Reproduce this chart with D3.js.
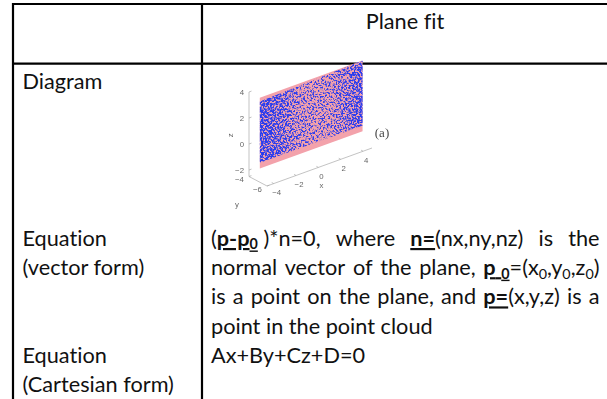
<!DOCTYPE html>
<html>
<head>
<meta charset="utf-8">
<script src="https://cdn.jsdelivr.net/npm/d3@7"></script>
<style>
  html, body { margin: 0; padding: 0; background: #fff; }
  svg { display: block; }
  text { font-variant-ligatures: none; font-feature-settings: "liga" 0; }
</style>
</head>
<body>
<svg id="chart" width="607" height="399"></svg>
<script>
// ---------- content ----------
const headerTitle = "Plane fit";
const leftLabels = ["Diagram", "Equation", "(vector form)", "Equation", "(Cartesian form)"];
const leftBaselines = [89, 246, 275.2, 362.8, 392];

// right-hand text: each line is a list of words, each word a list of styled runs
const rightLines = [
  { justify: true, words: [
    [{t: "("}, {t: "p-p", b: 1, u: 1}, {t: "0", b: 1, u: 1, sub: 1}, {t: " )*n=0,"}],
    [{t: "where"}],
    [{t: "n=", b: 1, u: 1}, {t: "(nx,ny,nz)"}],
    [{t: "is"}], [{t: "the"}]
  ]},
  { justify: true, words: [
    [{t: "normal"}], [{t: "vector"}], [{t: "of"}], [{t: "the"}], [{t: "plane,"}],
    [{t: "p", b: 1, u: 1}, {t: " ", u: 1}, {t: "0", b: 1, u: 1, sub: 1}, {t: "=(x"}, {t: "0", sub: 1},
     {t: ",y"}, {t: "0", sub: 1}, {t: ",z"}, {t: "0", sub: 1}, {t: ")"}]
  ]},
  { justify: true, words: [
    [{t: "is"}], [{t: "a"}], [{t: "point"}], [{t: "on"}], [{t: "the"}], [{t: "plane,"}], [{t: "and"}],
    [{t: "p=", b: 1, u: 1}, {t: "(x,y,z)"}], [{t: "is"}], [{t: "a"}]
  ]},
  { justify: false, words: [[{t: "point"}], [{t: "in"}], [{t: "the"}], [{t: "point"}], [{t: "cloud"}]] },
  { justify: false, words: [[{t: "Ax+By+Cz+D=0"}]] }
];
const rightBaselines = [246, 275.2, 304.4, 333.6, 362.8];

// ---------- 3-D scatter: axes and point-cloud extents ----------
const xLimits = [-4.6, 4.8];
const yLimits = [-6, -4];
const zLimits = [-2.5, 4];
const xTicks = [-4, -2, 0, 2, 4];
const yTicks = [-6, -4];
const zTicks = [-2, 0, 2, 4];
const cloudX = [-4.6, 4.6];          // x span of the sampled plane
const cloudY = -5.2;                 // plane position along y
const pinkZ = [[-1.45, 4.0], [-1.45, 4.0]];   // [bottom, top] z at x min / x max
const blueZ = [[-1.0, 3.7], [-1.0, 4.0]];
const panelLabel = "(a)";

// ---------- drawing ----------
const svg = d3.select("#chart");
const FONT = "Lato, 'Open Sans', sans-serif";
const defs = svg.append("defs");

// table rules
const rule = { top: 4, header: 63.6, left: 13, divider: 202, stroke: 2.2 };
const tbl = svg.append("g").attr("stroke", "#000").attr("stroke-width", rule.stroke);
tbl.append("line").attr("x1", rule.left - 1).attr("x2", 607).attr("y1", rule.top).attr("y2", rule.top);
tbl.append("line").attr("x1", rule.left - 1).attr("x2", 607).attr("y1", rule.header).attr("y2", rule.header);
tbl.append("line").attr("x1", rule.left).attr("x2", rule.left).attr("y1", rule.top - 1).attr("y2", 399);
tbl.append("line").attr("x1", rule.divider).attr("x2", rule.divider).attr("y1", rule.top - 1).attr("y2", 399);

// font size fitted so that "Equation" spans ~84px
const probe = svg.append("text").attr("font-family", FONT).attr("font-size", 22).text("Equation");
const fs = 22 * 84.4 / probe.node().getComputedTextLength();
probe.remove();

const textG = svg.append("g").attr("font-family", FONT).attr("font-size", fs).attr("fill", "#111");

textG.append("text").attr("x", 405).attr("y", 29).attr("text-anchor", "middle").text(headerTitle);

textG.selectAll("text.lbl").data(leftLabels).join("text")
  .attr("class", "lbl").attr("x", 22.5).attr("y", (d, i) => leftBaselines[i]).text(d => d);

// right column with justified lines
const rx0 = 211, rx1 = 599.5;
const subSize = fs * 0.66, subShift = fs * 0.16;
function makeWord(g, runs, y) {
  const t = g.append("text").attr("x", 0).attr("y", y).style("white-space", "pre");
  let shift = 0;
  runs.forEach(r => {
    const target = r.sub ? subShift : 0;
    const ts = t.append("tspan").text(r.t).attr("dy", target - shift);
    shift = target;
    if (r.b) ts.attr("font-weight", 700);
    if (r.u) ts.attr("text-decoration", "underline");
    if (r.sub) ts.attr("font-size", subSize);
  });
  return t;
}
const sp = (() => {
  const a = textG.append("text").text("a a"), b = textG.append("text").text("aa");
  const w = a.node().getComputedTextLength() - b.node().getComputedTextLength();
  a.remove(); b.remove(); return w;
})();
rightLines.forEach((line, li) => {
  const y = rightBaselines[li];
  const els = line.words.map(w => makeWord(textG, w, y));
  const widths = els.map(e => e.node().getComputedTextLength());
  const total = d3.sum(widths);
  const gap = line.justify && els.length > 1 ? (rx1 - rx0 - total) / (els.length - 1) : sp;
  let x = rx0;
  els.forEach((e, i) => { e.attr("x", x); x += widths[i] + gap; });
});

// ---------- 3-D plot ----------
// orthographic projection built from one linear scale per screen component
const origin = [267, 186];                       // (xmin, ymin, zmin)
const hx = d3.scaleLinear(xLimits, [0, 105]);
const vx = d3.scaleLinear(xLimits, [0, -38]);
const hy = d3.scaleLinear(yLimits, [0, -18]);
const vy = d3.scaleLinear(yLimits, [0, -9.5]);
const vz = d3.scaleLinear(zLimits, [0, -84.5]);
const proj = (x, y, z) => [origin[0] + hx(x) + hy(y), origin[1] + vx(x) + vy(y) + vz(z)];

defs.append("filter").attr("id", "soft").attr("x", -0.1).attr("y", -0.1).attr("width", 1.2).attr("height", 1.2)
  .append("feGaussianBlur").attr("stdDeviation", 0.4);

const plot = svg.append("g").attr("filter", "url(#soft)");
const axisCol = "#a9a9a9", tickCol = "#666";
const [x0, x1] = xLimits, [y0, y1] = yLimits, [z0, z1] = zLimits;

const axG = plot.append("g").attr("stroke", axisCol).attr("stroke-width", 0.7).attr("fill", "none");
const seg = (a, b) => axG.append("line").attr("x1", a[0]).attr("y1", a[1]).attr("x2", b[0]).attr("y2", b[1]);
seg(proj(x0, y1, z0), proj(x0, y1, z1));
seg(proj(x0, y1, z0), proj(x0, y0, z0));
seg(proj(x0, y0, z0), proj(x1, y0, z0));

// tick marks
zTicks.forEach(z => { const p = proj(x0, y1, z); seg(p, [p[0] + 2.5, p[1] - 0.9]); });
xTicks.forEach(x => { const p = proj(x, y0, z0); seg(p, [p[0] - 2, p[1] - 1.1]); });
yTicks.forEach(y => { const p = proj(x0, y, z0); seg(p, [p[0] + 2.4, p[1] - 0.9]); });

const lab = plot.append("g").attr("font-family", "'Liberation Sans', Arial, sans-serif")
  .attr("font-size", 7.8).attr("fill", tickCol);
const fmt = d3.format("");
zTicks.forEach(z => { const p = proj(x0, y1, z);
  lab.append("text").attr("x", p[0] - 5).attr("y", p[1]).attr("dy", "0.35em").attr("text-anchor", "end").text(fmt(z)); });
xTicks.forEach(x => { const p = proj(x, y0, z0);
  lab.append("text").attr("x", p[0] + 3).attr("y", p[1] + 9).attr("dy", "0.35em").attr("text-anchor", "middle").text(fmt(x)); });
yTicks.forEach(y => { const p = proj(x0, y, z0);
  lab.append("text").attr("x", p[0] - 9.5).attr("y", p[1] + 3).attr("dy", "0.35em").attr("text-anchor", "middle").text(fmt(y)); });

// axis titles
const pz = proj(x0, y1, (z0 + z1) / 2);
lab.append("text").attr("transform", `translate(${pz[0] - 19},${pz[1] + 1}) rotate(-90)`)
  .attr("text-anchor", "middle").attr("dy", "0.35em").text("z");
const pxl = proj((x0 + x1) / 2, y0, z0);
lab.append("text").attr("x", pxl[0] + 2).attr("y", pxl[1] + 21).attr("text-anchor", "middle").text("x");
const pyl = proj(x0, (y0 + y1) / 2, z0);
lab.append("text").attr("x", pyl[0] - 21).attr("y", pyl[1] + 26).attr("text-anchor", "middle").text("y");

// point-cloud patches
const patch = zs => [
  proj(cloudX[0], cloudY, zs[0][0]), proj(cloudX[1], cloudY, zs[1][0]),
  proj(cloudX[1], cloudY, zs[1][1]), proj(cloudX[0], cloudY, zs[0][1])
];
const pinkPoly = patch(pinkZ), bluePoly = patch(blueZ);
const line = d3.line();

plot.append("path").attr("d", line(pinkPoly) + "Z").attr("fill", "#f3a2ab");

defs.append("clipPath").attr("id", "blueClip").append("path").attr("d", line(bluePoly) + "Z");

const bx = d3.extent(bluePoly, d => d[0]), by = d3.extent(bluePoly, d => d[1]);
const grad = defs.append("linearGradient").attr("id", "density").attr("gradientUnits", "userSpaceOnUse")
  .attr("x1", bx[0]).attr("x2", bx[1]).attr("y1", 0).attr("y2", 0);
[[0, 0.76], [0.22, 0.68], [0.45, 0.57], [0.68, 0.58], [0.88, 0.66], [1, 0.74]].forEach(([o, a]) =>
  grad.append("stop").attr("offset", o).attr("stop-color", "#000").attr("stop-opacity", a));

const f = defs.append("filter").attr("id", "speckle").attr("color-interpolation-filters", "sRGB")
  .attr("x", -0.05).attr("y", -0.05).attr("width", 1.1).attr("height", 1.1);
f.append("feTurbulence").attr("type", "fractalNoise").attr("baseFrequency", 0.55)
  .attr("numOctaves", 2).attr("seed", 7).attr("result", "noise");
f.append("feColorMatrix").attr("in", "noise").attr("type", "matrix")
  .attr("values", "0 0 0 0 0  0 0 0 0 0  0 0 0 0 0  1 0 0 0 0").attr("result", "n");
f.append("feComposite").attr("in", "n").attr("in2", "SourceGraphic").attr("operator", "arithmetic")
  .attr("k1", 0).attr("k2", 1).attr("k3", 0.7).attr("k4", -0.45).attr("result", "m");
const ct = f.append("feComponentTransfer").attr("in", "m").attr("result", "t");
ct.append("feFuncA").attr("type", "linear").attr("slope", 6).attr("intercept", -2.6);
f.append("feFlood").attr("flood-color", "#2a3cee").attr("result", "blue");
f.append("feComposite").attr("in", "blue").attr("in2", "t").attr("operator", "in").attr("result", "spots");
f.append("feGaussianBlur").attr("in", "spots").attr("stdDeviation", 0.45);

plot.append("g").attr("clip-path", "url(#blueClip)")
  .append("rect").attr("x", bx[0] - 2).attr("y", by[0] - 2)
  .attr("width", bx[1] - bx[0] + 4).attr("height", by[1] - by[0] + 4)
  .attr("fill", "url(#density)").attr("filter", "url(#speckle)");

// panel tag
const pa = proj(x1, y0, z0);
plot.append("text").attr("x", pa[0] + 10).attr("y", pa[1] - 11)
  .attr("font-family", "'Liberation Serif', 'DejaVu Serif', serif").attr("font-size", 13)
  .attr("fill", "#4a4a4a").attr("text-anchor", "middle").text(panelLabel);
</script>
</body>
</html>
